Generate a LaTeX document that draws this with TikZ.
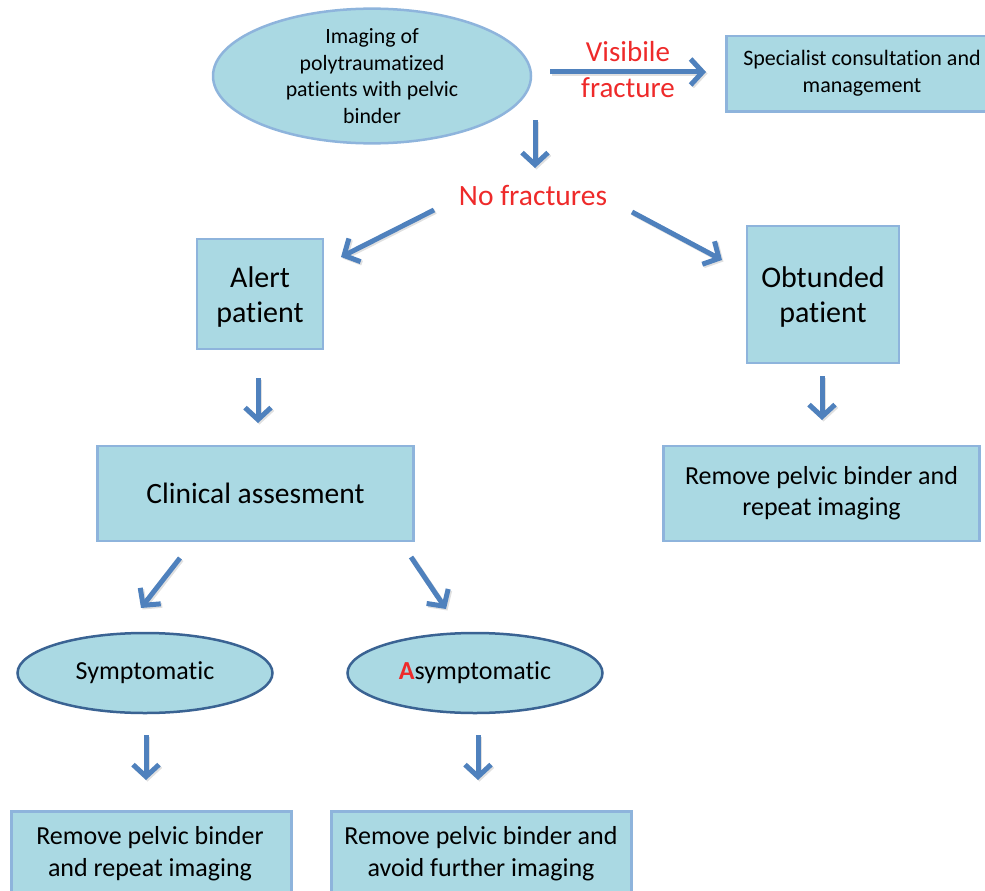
\documentclass[tikz,border=0pt]{standalone}
\usepackage{fontspec}
\setmainfont{Carlito}[RawFeature=-liga]
\usetikzlibrary{arrows.meta,shapes.geometric}
\definecolor{boxfill}{HTML}{AAD9E3}
\definecolor{boxline}{HTML}{8EB4DC}
\definecolor{ellline}{HTML}{3A6393}
\definecolor{arrowblue}{HTML}{4F81BD}
\definecolor{redtxt}{HTML}{EE2A2A}
\tikzset{
  stepbox/.style={draw=boxline, fill=boxfill, line width=2.5pt, inner sep=0pt, align=center, text=black},
  topell/.style={ellipse, draw=boxline, fill=boxfill, line width=2.5pt, inner sep=0pt, align=center},
  lowell/.style={ellipse, draw=ellline, fill=boxfill, line width=2.5pt, inner sep=0pt, align=center},
  flowarrow/.style={draw=arrowblue, line width=5pt, -{Straight Barb[length=12pt,width=26pt,line width=5pt]}},
  arrowshadow/.style={draw=black!35, opacity=0.35, line width=5pt, -{Straight Barb[length=12pt,width=26pt,line width=5pt]}, transform canvas={xshift=1.5pt,yshift=-1.5pt}},
  redlabel/.style={text=redtxt, align=center, inner sep=0pt},
  txt/.style={align=center, inner sep=0pt},
}
\newcommand{\flowar}[2]{\draw[arrowshadow] (#1) -- (#2); \draw[flowarrow] (#1) -- (#2);}
\begin{document}
\begin{tikzpicture}[x=1pt,y=-1pt]
\useasboundingbox (0,0) rectangle (985,891);
% top ellipse
\node[topell, minimum width=318pt, minimum height=124pt, font=\fontsize{21.8}{26.7}\selectfont] (img) at (372,76) {Imaging of\\polytraumatized\\patients with pelvic\\binder};
% specialist
\node[stepbox, minimum width=280pt, minimum height=75pt, anchor=north west] (spec) at (725,35) {};
\node[txt, font=\fontsize{22}{27}\selectfont] (spectxt) at (862,73) {Specialist consultation and\\management};
% visible fracture
\coordinate (va) at (550,72);
\coordinate (vb) at (706,72);
\flowar{va}{vb}
\node[redlabel, font=\fontsize{29}{36}\selectfont] (vis) at (628,70) {Visibile\\fracture};
% no fractures
\coordinate (na) at (535,120);
\coordinate (nb) at (535,168);
\flowar{na}{nb}
\node[redlabel, font=\fontsize{29.5}{30}\selectfont] (nofr) at (533,195) {No fractures};
% alert / obtunded
\node[stepbox, minimum width=126pt, minimum height=110pt] (alert) at (260,294) {};
\node[txt, font=\fontsize{30}{35}\selectfont] (alerttxt) at (260,297) {Alert\\patient};
\node[stepbox, minimum width=152pt, minimum height=137pt] (obt) at (823,294.5) {};
\node[txt, font=\fontsize{30}{35}\selectfont] (obttxt) at (823,297) {Obtunded\\patient};
% diagonals
\coordinate (la) at (434,210);
\coordinate (lb) at (341,257);
\flowar{la}{lb}
\coordinate (ra) at (632,212);
\coordinate (rb) at (722,260);
\flowar{ra}{rb}
\coordinate (aa) at (258,378);
\coordinate (ab) at (258,423);
\flowar{aa}{ab}
\coordinate (oa) at (822,376);
\coordinate (ob) at (822,420);
\flowar{oa}{ob}
% clinical and right remove
\node[stepbox, minimum width=316pt, minimum height=95pt, font=\fontsize{29.5}{32}\selectfont] (clin) at (255.5,493.5) {Clinical assesment};
\node[stepbox, minimum width=316pt, minimum height=95pt, font=\fontsize{26}{31}\selectfont] (remr) at (821.5,493.5) {Remove pelvic binder and\\repeat imaging};
% diagonals lower
\coordinate (sa) at (180,558);
\coordinate (sb) at (141,608);
\flowar{sa}{sb}
\coordinate (ta) at (411,557);
\coordinate (tb) at (446,609);
\flowar{ta}{tb}
% ellipses
\node[lowell, minimum width=255pt, minimum height=80pt, font=\fontsize{26}{28}\selectfont] (sym) at (145,673) {Symptomatic};
\node[lowell, minimum width=255pt, minimum height=80pt, font=\fontsize{26}{28}\selectfont] (asym) at (475,673) {\textcolor{redtxt}{\textbf{A}}symptomatic};
\coordinate (ya) at (146,735);
\coordinate (yb) at (146,780);
\flowar{ya}{yb}
\coordinate (za) at (478,735);
\coordinate (zb) at (478,780);
\flowar{za}{zb}
% bottom boxes
\node[stepbox, minimum width=280pt, minimum height=100pt, anchor=north west] (reml) at (10,810) {};
\node[txt, font=\fontsize{26}{32}\selectfont] (remltxt) at (150,854) {Remove pelvic binder\\and repeat imaging};
\node[stepbox, minimum width=300pt, minimum height=100pt, anchor=north west] (rema) at (330,810) {};
\node[txt, font=\fontsize{26}{32}\selectfont] (rematxt) at (481,854) {Remove pelvic binder and\\avoid further imaging};
\end{tikzpicture}
\end{document}
